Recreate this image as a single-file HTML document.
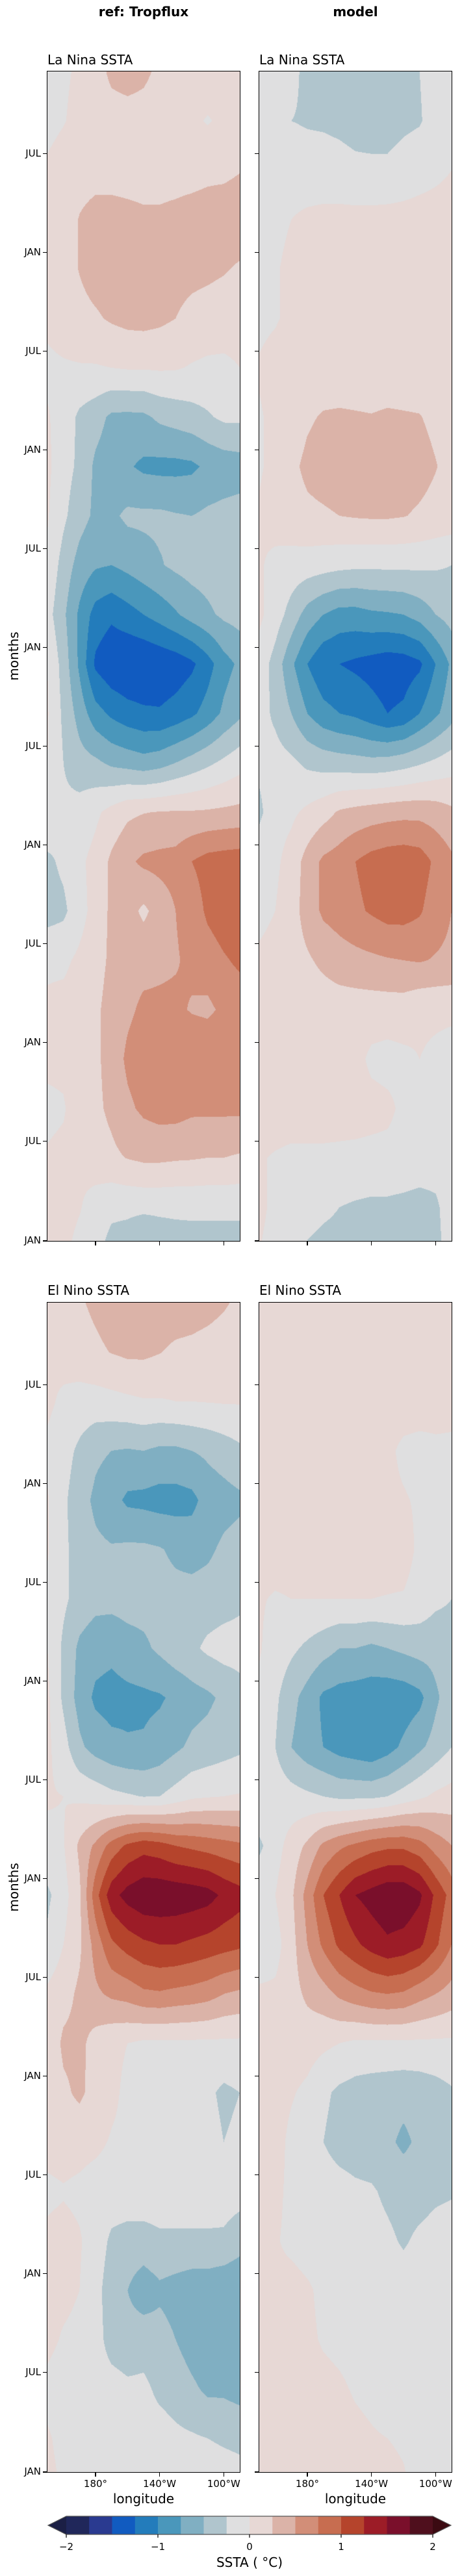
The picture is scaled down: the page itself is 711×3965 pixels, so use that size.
<!DOCTYPE html>
<html><head><meta charset="utf-8">
<style>
body{margin:0;background:#fff;width:711px;height:3965px;position:relative;overflow:hidden;font-family:"DejaVu Sans","Liberation Sans",sans-serif;color:#000}
.t{position:absolute;white-space:nowrap;line-height:1}
canvas{position:absolute;display:block}
.frame{position:absolute;border:1.5px solid #000;box-sizing:border-box;pointer-events:none}
.tk{position:absolute;background:#000}
</style></head><body>
<div class="t" style="left:121px;width:200px;text-align:center;top:8px;font-size:20px;font-weight:bold">ref: Tropflux</div>
<div class="t" style="left:447px;width:200px;text-align:center;top:8px;font-size:20px;font-weight:bold">model</div>
<div class="t" style="left:73px;top:82px;font-size:20px">La Nina SSTA</div>
<div class="t" style="left:399px;top:82px;font-size:20px">La Nina SSTA</div>
<div class="t" style="left:73px;top:1976px;font-size:20px">El Nino SSTA</div>
<div class="t" style="left:399px;top:1976px;font-size:20px">El Nino SSTA</div>
<div class="t" style="left:-19px;top:1000px;width:80px;text-align:center;font-size:20px;transform:rotate(-90deg)">months</div>
<div class="t" style="left:-19px;top:2895px;width:80px;text-align:center;font-size:20px;transform:rotate(-90deg)">months</div>
<div class="t" style="left:121px;width:200px;text-align:center;top:3836px;font-size:20px">longitude</div>
<div class="t" style="left:447px;width:200px;text-align:center;top:3836px;font-size:20px">longitude</div>
<div id="axes"></div>
<svg style="position:absolute;left:0;top:3860px" width="711" height="105" id="cbar"></svg>

<script>
// ---- data ----
const levels = [-2,-1.75,-1.5,-1.25,-1,-0.75,-0.5,-0.25,0,0.25,0.5,0.75,1,1.25,1.5,1.75,2];
const levelColors = ["#1b1f45","#20275a","#2a3a90","#115bc0","#237cbb","#4a97bb","#80afc2","#b0c5cd","#dfdfe0","#e7d8d5","#dbb3a8","#d28e78","#c76d50","#b5442c","#9c1c27","#7a0f2b","#4f0f1d","#3b0a12"];
const lons = [150,160,170,180,190,200,210,220,230,240,250,260,270];
const monthRows = [0,3,6,9,12,15,18,21,24,27,30,33,36,39,42,45,48,51,54,57,60,63,66,69,72];
const monthTickLabels = ["JUL","JAN","JUL","JAN","JUL","JAN","JUL","JAN","JUL","JAN","JUL","JAN"];
const monthTickValues = [5,11,17,23,29,35,41,47,53,59,65,71.05];
const lonTickValues = [180,220,260];
const lonTickLabels = ["180\u00b0","140\u00b0W","100\u00b0W"];
const cbarTicks = [-2,-1,0,1,2];
const cbarTickLabels = ["\u22122","\u22121","0","1","2"];

const laNinaRef = [
[-0.1,-0.05,0.05,0.15,0.3,0.35,0.3,0.2,0.15,0.15,0.15,0.12,0.1],
[-0.1,-0.02,0.1,0.15,0.15,0.15,0.15,0.12,0.1,0.05,-0.02,0.05,0.05],
[0.05,0.15,0.17,0.18,0.18,0.18,0.18,0.18,0.18,0.18,0.2,0.2,0.24],
[0.05,0.15,0.26,0.32,0.32,0.3,0.28,0.28,0.3,0.33,0.35,0.38,0.4],
[0.08,0.15,0.26,0.35,0.38,0.38,0.38,0.36,0.34,0.32,0.3,0.27,0.22],
[0.05,0.12,0.18,0.22,0.28,0.32,0.33,0.3,0.25,0.18,0.15,0.12,0.1],
[-0.05,-0.03,-0.02,-0.02,0,0.02,0.02,0.03,0.02,-0.02,-0.05,-0.05,0],
[0.02,-0.1,-0.3,-0.4,-0.55,-0.56,-0.55,-0.45,-0.4,-0.35,-0.28,-0.2,-0.2],
[0.05,-0.15,-0.3,-0.55,-0.65,-0.72,-0.8,-0.82,-0.82,-0.8,-0.7,-0.65,-0.62],
[0.02,-0.2,-0.4,-0.55,-0.55,-0.45,-0.45,-0.45,-0.48,-0.5,-0.45,-0.42,-0.4],
[-0.05,-0.35,-0.6,-0.72,-0.75,-0.68,-0.6,-0.52,-0.45,-0.4,-0.38,-0.35,-0.35],
[-0.15,-0.45,-0.8,-1.1,-1.2,-1.1,-1.0,-0.9,-0.78,-0.65,-0.55,-0.45,-0.4],
[0,-0.35,-0.8,-1.3,-1.45,-1.5,-1.5,-1.45,-1.4,-1.3,-1.1,-0.85,-0.7],
[0.02,-0.3,-0.6,-0.9,-1.05,-1.15,-1.2,-1.22,-1.15,-1.05,-0.9,-0.7,-0.55],
[0,-0.25,-0.4,-0.45,-0.55,-0.6,-0.65,-0.6,-0.5,-0.4,-0.3,-0.2,-0.1],
[-0.05,-0.2,-0.15,-0.05,0.08,0.2,0.24,0.26,0.27,0.27,0.28,0.3,0.32],
[-0.3,-0.2,-0.05,0.08,0.3,0.45,0.55,0.58,0.6,0.75,0.85,0.88,0.9],
[-0.35,-0.3,-0.1,0.1,0.3,0.35,0.2,0.35,0.5,0.6,0.8,0.9,0.95],
[-0.05,-0.05,0.05,0.15,0.3,0.4,0.42,0.45,0.48,0.55,0.62,0.72,0.8],
[0.05,0.08,0.12,0.2,0.35,0.45,0.55,0.55,0.55,0.48,0.45,0.55,0.6],
[0.05,0.05,0.12,0.2,0.35,0.55,0.65,0.7,0.72,0.72,0.72,0.72,0.72],
[-0.05,-0.02,0.12,0.2,0.3,0.45,0.55,0.6,0.6,0.55,0.55,0.55,0.55],
[0.02,0.05,0.05,0.15,0.2,0.26,0.3,0.3,0.28,0.27,0.25,0.25,0.22],
[0.05,0.1,0.02,-0.12,-0.2,-0.2,-0.2,-0.2,-0.2,-0.2,-0.2,-0.2,-0.2],
[0,0.05,-0.1,-0.2,-0.35,-0.4,-0.55,-0.45,-0.4,-0.38,-0.38,-0.38,-0.38]];

const laNinaModel = [
[-0.1,-0.12,-0.2,-0.3,-0.35,-0.35,-0.35,-0.35,-0.35,-0.32,-0.25,-0.15,-0.1],
[-0.1,-0.15,-0.25,-0.27,-0.28,-0.3,-0.33,-0.35,-0.35,-0.3,-0.27,-0.15,-0.1],
[-0.05,-0.1,-0.12,-0.15,-0.15,-0.17,-0.2,-0.2,-0.2,-0.15,-0.1,-0.05,0],
[-0.1,-0.05,0,0.05,0.07,0.08,0.08,0.08,0.09,0.09,0.1,0.1,0.1],
[-0.05,-0.02,0.05,0.1,0.1,0.11,0.11,0.11,0.11,0.12,0.12,0.12,0.12],
[-0.05,-0.02,0.05,0.1,0.11,0.11,0.11,0.12,0.12,0.12,0.12,0.12,0.12],
[0.02,0.08,0.12,0.12,0.12,0.12,0.12,0.12,0.12,0.12,0.12,0.12,0.12],
[-0.02,0.05,0.12,0.22,0.27,0.28,0.27,0.26,0.28,0.27,0.26,0.2,0.15],
[-0.02,0.05,0.2,0.3,0.35,0.38,0.38,0.38,0.38,0.36,0.33,0.26,0.18],
[0.02,0.08,0.15,0.2,0.22,0.25,0.27,0.28,0.28,0.26,0.22,0.18,0.15],
[0.02,-0.05,-0.1,-0.12,-0.15,-0.18,-0.2,-0.2,-0.2,-0.2,-0.2,-0.22,-0.25],
[0.05,-0.12,-0.35,-0.6,-0.75,-0.85,-0.85,-0.8,-0.78,-0.75,-0.65,-0.5,-0.4],
[-0.1,-0.35,-0.7,-1.0,-1.2,-1.25,-1.3,-1.35,-1.4,-1.38,-1.3,-1.0,-0.7],
[-0.15,-0.3,-0.5,-0.75,-0.92,-1.0,-1.05,-1.15,-1.25,-1.2,-1.0,-0.8,-0.6],
[-0.2,-0.15,-0.2,-0.3,-0.35,-0.38,-0.4,-0.42,-0.4,-0.35,-0.28,-0.2,-0.12],
[-0.3,-0.1,-0.05,0.05,0.15,0.28,0.33,0.37,0.4,0.42,0.42,0.38,0.3],
[-0.1,-0.05,0.1,0.35,0.55,0.62,0.75,0.85,0.9,0.92,0.88,0.7,0.55],
[-0.08,0,0.15,0.35,0.55,0.62,0.7,0.78,0.85,0.85,0.78,0.62,0.5],
[0.05,0.1,0.15,0.22,0.3,0.38,0.42,0.45,0.48,0.5,0.52,0.48,0.45],
[0.12,0.12,0.12,0.12,0.12,0.12,0.12,0.12,0.12,0.12,0.05,0.05,0.05],
[0.1,0.12,0.12,0.12,0.12,0.1,0.08,-0.05,-0.08,-0.05,0,-0.05,-0.1],
[0.1,0.12,0.12,0.12,0.12,0.1,0.1,0.08,0.05,-0.05,-0.1,-0.12,-0.12],
[0.02,-0.02,-0.05,-0.05,-0.05,-0.05,-0.06,-0.07,-0.07,-0.08,-0.1,-0.12,-0.12],
[0.05,-0.05,-0.1,-0.15,-0.2,-0.25,-0.28,-0.3,-0.3,-0.32,-0.35,-0.3,-0.1],
[0,-0.1,-0.2,-0.3,-0.35,-0.35,-0.35,-0.38,-0.4,-0.4,-0.4,-0.35,-0.1]];

const elNinoRef = [
[0.05,0.12,0.22,0.3,0.38,0.4,0.4,0.4,0.4,0.38,0.34,0.28,0.2],
[0.02,0.1,0.15,0.2,0.26,0.3,0.3,0.26,0.2,0.18,0.15,0.12,0.1],
[0.05,-0.05,-0.1,-0.1,-0.08,-0.05,-0.02,-0.02,0,0,0.01,0.02,0.02],
[-0.05,-0.15,-0.3,-0.45,-0.5,-0.52,-0.5,-0.55,-0.55,-0.5,-0.45,-0.38,-0.3],
[0.02,-0.2,-0.4,-0.55,-0.65,-0.8,-0.82,-0.85,-0.85,-0.82,-0.65,-0.6,-0.55],
[0.02,-0.2,-0.35,-0.45,-0.48,-0.45,-0.45,-0.48,-0.55,-0.6,-0.55,-0.45,-0.4],
[-0.05,-0.2,-0.35,-0.42,-0.42,-0.4,-0.4,-0.4,-0.42,-0.4,-0.38,-0.35,-0.3],
[0,-0.3,-0.55,-0.65,-0.68,-0.6,-0.55,-0.45,-0.35,-0.3,-0.2,-0.15,-0.15],
[0.05,-0.3,-0.6,-0.8,-0.85,-0.82,-0.8,-0.78,-0.7,-0.6,-0.55,-0.45,-0.35],
[0.05,-0.15,-0.45,-0.6,-0.68,-0.72,-0.72,-0.65,-0.55,-0.45,-0.4,-0.35,-0.3],
[0.02,0,-0.05,-0.1,-0.18,-0.22,-0.26,-0.25,-0.15,-0.05,-0.02,0,0.02],
[-0.05,-0.02,0.3,0.55,0.85,1.05,1.15,1.1,1.0,0.95,0.9,0.85,0.8],
[-0.3,-0.1,0.2,0.9,1.4,1.6,1.7,1.7,1.68,1.65,1.6,1.45,1.35],
[-0.2,0,0.2,0.6,0.95,1.1,1.2,1.25,1.25,1.2,1.15,1.1,1.05],
[0.05,0.15,0.3,0.45,0.55,0.6,0.7,0.72,0.68,0.65,0.6,0.5,0.45],
[0.05,0.3,0.32,0.15,0.05,0,-0.05,-0.05,-0.05,-0.05,-0.05,-0.05,-0.05],
[0.05,0.2,0.3,0.15,0.05,-0.05,-0.1,-0.1,-0.12,-0.15,-0.2,-0.3,-0.25],
[0.08,0.1,0.08,0.05,-0.02,-0.05,-0.05,-0.08,-0.1,-0.12,-0.15,-0.25,-0.2],
[-0.05,-0.02,-0.05,-0.1,-0.1,-0.1,-0.1,-0.1,-0.1,-0.1,-0.1,-0.12,-0.15],
[0.05,0.08,0.02,-0.1,-0.3,-0.35,-0.35,-0.3,-0.3,-0.3,-0.3,-0.3,-0.4],
[0.05,0.05,0,-0.15,-0.4,-0.5,-0.65,-0.55,-0.6,-0.65,-0.65,-0.7,-0.72],
[0.05,-0.02,-0.05,-0.15,-0.35,-0.4,-0.35,-0.4,-0.5,-0.62,-0.7,-0.75,-0.75],
[-0.05,-0.1,-0.1,-0.15,-0.15,-0.2,-0.2,-0.3,-0.35,-0.45,-0.55,-0.55,-0.6],
[0.02,-0.05,-0.1,-0.1,-0.12,-0.12,-0.15,-0.15,-0.2,-0.22,-0.25,-0.28,-0.3],
[0.05,-0.02,-0.1,-0.1,-0.1,-0.1,-0.1,-0.1,-0.1,-0.1,-0.1,-0.12,-0.15]];

const elNinoModel = [
[0.12,0.12,0.12,0.12,0.12,0.12,0.12,0.12,0.12,0.12,0.12,0.12,0.12],
[0.12,0.12,0.12,0.12,0.12,0.12,0.12,0.12,0.12,0.12,0.12,0.12,0.12],
[0.12,0.12,0.12,0.12,0.12,0.12,0.12,0.12,0.12,0.12,0.12,0.1,0.08],
[0.1,0.1,0.1,0.1,0.1,0.1,0.1,0.1,0.05,-0.05,-0.08,-0.05,-0.05],
[0.1,0.1,0.1,0.1,0.1,0.1,0.1,0.1,0.05,0.02,-0.03,-0.05,-0.05],
[0.1,0.1,0.1,0.1,0.1,0.1,0.1,0.1,0.1,0.1,-0.05,-0.1,-0.08],
[0.02,-0.02,0,0,0,0,0,0,-0.01,-0.02,-0.1,-0.2,-0.25],
[0.02,-0.1,-0.2,-0.3,-0.4,-0.5,-0.5,-0.55,-0.5,-0.45,-0.4,-0.4,-0.35],
[-0.05,-0.2,-0.42,-0.6,-0.8,-0.85,-0.88,-0.9,-0.92,-0.9,-0.82,-0.55,-0.35],
[-0.1,-0.25,-0.5,-0.65,-0.75,-0.85,-0.9,-0.95,-0.85,-0.7,-0.55,-0.4,-0.25],
[-0.02,-0.1,-0.15,-0.2,-0.25,-0.3,-0.3,-0.3,-0.25,-0.15,-0.05,0.05,0.1],
[-0.3,-0.1,0.1,0.3,0.55,0.7,0.8,0.9,0.95,0.95,0.85,0.65,0.5],
[-0.05,0,0.2,0.6,1.0,1.25,1.5,1.6,1.7,1.7,1.55,1.2,0.9],
[-0.2,-0.1,0.15,0.5,0.8,1.05,1.2,1.35,1.45,1.4,1.3,1.05,0.75],
[0.05,0.05,0.15,0.3,0.4,0.55,0.65,0.72,0.75,0.72,0.6,0.5,0.4],
[0.05,0.1,0.12,0.1,0.05,0,-0.05,-0.05,-0.05,-0.05,-0.05,-0.05,-0.05],
[0.05,0.08,0.02,-0.05,-0.2,-0.3,-0.35,-0.38,-0.4,-0.42,-0.4,-0.35,-0.28],
[0.05,0.08,-0.05,-0.1,-0.25,-0.35,-0.38,-0.4,-0.45,-0.55,-0.45,-0.35,-0.3],
[0.05,0.05,-0.05,-0.1,-0.12,-0.15,-0.2,-0.22,-0.3,-0.35,-0.35,-0.3,-0.28],
[0.08,0.02,-0.05,-0.1,-0.1,-0.12,-0.12,-0.15,-0.2,-0.28,-0.2,-0.15,-0.1],
[0.02,0.05,0.08,0.03,-0.05,-0.08,-0.1,-0.1,-0.1,-0.12,-0.1,-0.1,-0.1],
[0.02,0.05,0.06,0.04,-0.02,-0.05,-0.07,-0.08,-0.1,-0.1,-0.1,-0.1,-0.1],
[0.05,0.08,0.08,0.08,0.06,0.03,-0.02,-0.05,-0.1,-0.1,-0.1,-0.1,-0.1],
[0.05,0.08,0.1,0.1,0.1,0.08,0.05,0.02,0,-0.02,-0.05,-0.08,-0.1],
[0.1,0.1,0.1,0.1,0.1,0.1,0.1,0.08,0.05,0.02,-0.05,-0.1,-0.1]];

// ---- layout ----
const panelW = 296, panelH = 1800, monthSpan = 71.05;
const lonMin = 150, lonMax = 270;
const panels = [
  {name:'lanina-ref', x:73, y:110, data:laNinaRef, labels:true, xlabels:false},
  {name:'lanina-model', x:399, y:110, data:laNinaModel, labels:false, xlabels:false},
  {name:'elnino-ref', x:73, y:2005, data:elNinoRef, labels:true, xlabels:true},
  {name:'elnino-model', x:399, y:2005, data:elNinoModel, labels:false, xlabels:true}
];
function xScale(lon){ return (lon-lonMin)/(lonMax-lonMin)*panelW; }
function yScale(m){ return m/monthSpan*panelH; }
function rgb(h){ return [parseInt(h.substr(1,2),16),parseInt(h.substr(3,2),16),parseInt(h.substr(5,2),16)]; }
const rgbs = levelColors.map(rgb);
function colorIdx(v){ let i=0; while(i<levels.length && v>=levels[i]) i++; return i; }
function sample(data, lon, m){
  let fx=(lon-lons[0])/(lons[1]-lons[0]); fx=Math.max(0,Math.min(lons.length-1.0001,fx));
  let fy=(m-monthRows[0])/(monthRows[1]-monthRows[0]); fy=Math.max(0,Math.min(monthRows.length-1.0001,fy));
  const i=Math.floor(fx), j=Math.floor(fy), a=fx-i, b=fy-j;
  return data[j][i]*(1-a)*(1-b)+data[j][i+1]*a*(1-b)+data[j+1][i]*(1-a)*b+data[j+1][i+1]*a*b;
}
const axes = document.getElementById('axes');
function add(tag, cls, style, name, text){
  const el=document.createElement(tag); if(cls) el.className=cls; el.style.cssText=style;
  
  
  if(text!==undefined) el.textContent=text; axes.appendChild(el); return el;
}
panels.forEach(p=>{
  const c=document.createElement('canvas'); c.width=panelW; c.height=panelH;
  c.style.left=p.x+'px'; c.style.top=p.y+'px';
  
  
  axes.appendChild(c);
  const ctx=c.getContext('2d'); const img=ctx.createImageData(panelW,panelH);
  for(let y=0;y<panelH;y++){
    const m=(y+0.5)/panelH*monthSpan;
    for(let x=0;x<panelW;x++){
      const lon=lonMin+(x+0.5)/panelW*(lonMax-lonMin);
      const col=rgbs[colorIdx(sample(p.data,lon,m))];
      const k=(y*panelW+x)*4; img.data[k]=col[0]; img.data[k+1]=col[1]; img.data[k+2]=col[2]; img.data[k+3]=255;
    }
  }
  ctx.putImageData(img,0,0);
  add('div','frame',`left:${p.x-1}px;top:${p.y-1}px;width:${panelW+2}px;height:${panelH+2}px`,'frame-'+p.name);
  monthTickValues.forEach((mv,i)=>{
    const yy=p.y+yScale(mv);
    add('div','tk',`left:${p.x-7}px;top:${yy-0.75}px;width:7px;height:1.5px`,'y-tick-'+p.name);
    if(p.labels) add('div','t',`right:${711-p.x+10}px;top:${yy-8}px;font-size:15px`,'y-tick-label',monthTickLabels[i]);
  });
  const yb=p.y+panelH;
  lonTickValues.forEach((lv,i)=>{
    const xx=p.x+xScale(lv);
    add('div','tk',`left:${xx-0.75}px;top:${yb}px;width:1.5px;height:7px`,'x-tick-'+p.name);
    if(p.xlabels) add('div','t',`left:${xx-40}px;width:80px;text-align:center;top:${yb+11}px;font-size:15px`,'x-tick-label',lonTickLabels[i]);
  });
});

// ---- colorbar ----
const svgNS='http://www.w3.org/2000/svg';
const cb=document.getElementById('cbar');
const cbX0=102, cbX1=666, cbY0=13, cbY1=41, tipL=74, tipR=694;
function cbScale(v){ return cbX0+(v-levels[0])/(levels[levels.length-1]-levels[0])*(cbX1-cbX0); }
function mk(tag, attrs, name){ const e=document.createElementNS(svgNS,tag); for(const k in attrs) e.setAttribute(k,attrs[k]);
  
  
  cb.appendChild(e); return e; }
mk('polygon',{points:`${tipL},${(cbY0+cbY1)/2} ${cbX0},${cbY0} ${cbX0},${cbY1}`,fill:levelColors[0]},'colorbar-extend-low');
for(let i=0;i<levels.length-1;i++){
  mk('rect',{x:cbScale(levels[i]),y:cbY0,width:cbScale(levels[i+1])-cbScale(levels[i])+0.5,height:cbY1-cbY0,fill:levelColors[i+1]},'colorbar-segment');
}
mk('polygon',{points:`${tipR},${(cbY0+cbY1)/2} ${cbX1},${cbY0} ${cbX1},${cbY1}`,fill:levelColors[levelColors.length-1]},'colorbar-extend-high');
mk('polygon',{points:`${tipL},${(cbY0+cbY1)/2} ${cbX0},${cbY0} ${cbX1},${cbY0} ${tipR},${(cbY0+cbY1)/2} ${cbX1},${cbY1} ${cbX0},${cbY1}`,fill:'none',stroke:'#555','stroke-width':1.2},'colorbar-outline');
cbarTicks.forEach((v,i)=>{
  const x=cbScale(v);
  mk('line',{x1:x,x2:x,y1:cbY1,y2:cbY1+5,stroke:'#000','stroke-width':1.2},'colorbar-tick');
  const t=mk('text',{x:x,y:cbY1+24,'text-anchor':'middle','font-size':15,'font-family':'DejaVu Sans, Liberation Sans, sans-serif'},'colorbar-tick-label');
  t.textContent=cbarTickLabels[i];
});
const lab=mk('text',{x:384,y:91,'text-anchor':'middle','font-size':20,'font-family':'DejaVu Sans, Liberation Sans, sans-serif'},'colorbar-label');
lab.textContent='SSTA ( \u00b0C)';
</script>
</body></html>
